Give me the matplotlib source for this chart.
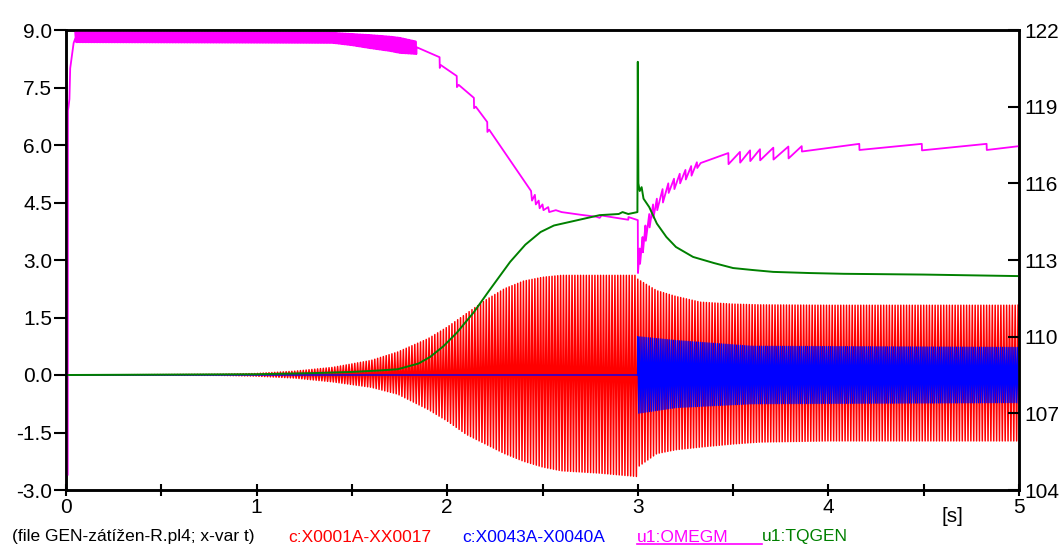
import numpy as np
import matplotlib
matplotlib.use("Agg")
import matplotlib.pyplot as plt
from matplotlib.lines import Line2D

plt.rcParams['font.family'] = ['Liberation Sans', 'DejaVu Sans']

# ---- values (left axis units, time in s) ----
# red current c:X0001A-XX0017, envelope knots
red_t = [0, 0.8, 1.0, 1.2, 1.4, 1.6, 1.74, 1.9, 2.0, 2.1, 2.2, 2.3, 2.4, 2.5, 2.6, 2.8, 2.999,
         3.0, 3.1, 3.2, 3.33, 3.5, 3.64, 4.0, 5.0]
red_top = [0, 0.02, 0.04, 0.1, 0.2, 0.38, 0.6, 0.95, 1.25, 1.6, 1.95, 2.25, 2.45, 2.55, 2.6, 2.6, 2.6,
           2.5, 2.2, 2.05, 1.9, 1.85, 1.83, 1.82, 1.82]
red_bot = [0, -0.01, -0.03, -0.08, -0.18, -0.32, -0.5, -0.9, -1.2, -1.55, -1.8, -2.05, -2.25, -2.4, -2.5, -2.56, -2.65,
           -2.4, -2.05, -1.95, -1.88, -1.8, -1.75, -1.72, -1.72]

# blue current c:X0043A-X0040A (zero before 3 s)
blue_t = [3.0, 3.2, 3.6, 5.0]
blue_top = [1.0, 0.9, 0.75, 0.72]
blue_bot = [-1.0, -0.85, -0.75, -0.72]

# magenta u1:OMEGM - start, oscillating band, then stepped curve
omg_start_t = [0.009, 0.01, 0.013, 0.018, 0.022, 0.03, 0.04, 0.05]
omg_start_v = [-2.6, 6.9, 6.99, 7.2, 8.0, 8.3, 8.66, 8.8]
band_t = [0.05, 1.4, 1.5, 1.6, 1.7, 1.75, 1.84]
band_top = [8.95, 8.93, 8.9, 8.87, 8.83, 8.8, 8.7]
band_bot = [8.68, 8.66, 8.6, 8.52, 8.45, 8.4, 8.37]
omg_t = [1.84, 1.96, 1.961, 1.965, 2.05, 2.051, 2.06, 2.14, 2.141, 2.15, 2.21, 2.211, 2.22,
         2.44, 2.445, 2.46, 2.465, 2.48, 2.485, 2.5, 2.505, 2.53, 2.535, 2.57, 2.6, 2.7, 2.78,
         2.8, 2.81, 2.95, 2.951, 2.995, 3.0, 3.001,
         3.01, 3.012, 3.025, 3.027, 3.04, 3.042, 3.06, 3.062, 3.08, 3.082, 3.10, 3.102, 3.13, 3.132,
         3.16, 3.162, 3.19, 3.192, 3.22, 3.222, 3.25, 3.252, 3.28, 3.282, 3.31, 3.312, 3.33,
         3.475, 3.476, 3.536, 3.537, 3.589, 3.59, 3.641, 3.642, 3.711, 3.712, 3.79, 3.791,
         3.86, 3.861, 4.162, 4.163, 4.49, 4.491, 4.83, 4.831, 5.0]
omg_v = [8.55, 8.29, 8.01, 8.09, 7.8, 7.51, 7.57, 7.23, 6.96, 7.0, 6.6, 6.34, 6.4,
         4.8, 4.55, 4.7, 4.45, 4.55, 4.35, 4.45, 4.3, 4.38, 4.25, 4.3, 4.25, 4.18, 4.13,
         4.1, 4.16, 4.05, 4.12, 4.05, 4.04, 2.66,
         3.3, 2.9, 3.6, 3.2, 3.9, 3.5, 4.2, 3.85, 4.45, 4.1, 4.6, 4.3, 4.85, 4.5,
         5.0, 4.75, 5.12, 4.85, 5.25, 5.0, 5.35, 5.1, 5.45, 5.2, 5.55, 5.4, 5.53,
         5.79, 5.5, 5.82, 5.54, 5.86, 5.58, 5.89, 5.6, 5.93, 5.62, 5.96, 5.65,
         5.97, 5.83, 6.03, 5.87, 6.03, 5.86, 6.03, 5.87, 5.97]

# green u1:TQGEN
tq_t = [0, 1.0, 1.3, 1.5, 1.65, 1.74, 1.85, 1.91, 1.98, 2.05, 2.1, 2.14, 2.22, 2.33, 2.41, 2.49,
        2.56, 2.64, 2.72, 2.8, 2.9, 2.92, 2.95, 2.998, 3.0, 3.003, 3.01, 3.02, 3.03, 3.06, 3.1,
        3.15, 3.2, 3.29, 3.4, 3.5, 3.6, 3.71, 3.9, 4.08, 4.5, 5.0]
tq_v = [0, 0.02, 0.05, 0.08, 0.12, 0.15, 0.3, 0.47, 0.75, 1.1, 1.4, 1.64, 2.2, 2.95, 3.4, 3.73,
        3.9, 3.99, 4.08, 4.17, 4.2, 4.25, 4.2, 4.25, 8.17, 5.0, 4.8, 4.9, 4.6, 4.38, 3.95,
        3.6, 3.34, 3.08, 2.92, 2.79, 2.74, 2.69, 2.66, 2.64, 2.62, 2.58]

left_ticks = [-3.0, -1.5, 0.0, 1.5, 3.0, 4.5, 6.0, 7.5, 9.0]
right_ticks = [104, 107, 110, 113, 116, 119, 122]


def zigzag(kt, top, bot, t0, t1, step):
    t = np.arange(t0, t1 + 1e-9, step)
    hi = np.interp(t, kt, top)
    lo = np.interp(t, kt, bot)
    v = np.where(np.arange(len(t)) % 2 == 0, hi, lo)
    return t, v


fig = plt.figure(figsize=(10.61, 5.45), dpi=100)
ax = fig.add_axes([66 / 1061, 1 - 490 / 545, 953 / 1061, 460 / 545])

rt, rv = zigzag(red_t, red_top, red_bot, 0, 5, 0.0075)
ax.plot(rt, rv, color='#ff0000', lw=1.1, zorder=2)

bt, bv = zigzag(blue_t, blue_top, blue_bot, 3.0, 5, 0.0055)
ax.plot([0, 3.0] + list(bt), [0, 0] + list(bv), color='#0000ff', lw=1.0, zorder=3)

mt, mv = zigzag(band_t, band_top, band_bot, 0.05, 1.84, 0.004)
ax.plot(omg_start_t + list(mt) + omg_t, omg_start_v + list(mv) + omg_v,
        color='#ff00ff', lw=1.3, zorder=4)

ax.plot(tq_t, tq_v, color='#008000', lw=1.4, zorder=5)

ax.set_xlim(0, 5)
ax.set_ylim(-3, 9)
ax.set_xticks([0, 1, 2, 3, 4, 5])
ax.set_xticks(np.arange(0.5, 5, 1.0), minor=True)
ax.set_yticks(left_ticks)
ax.set_yticklabels(['%.1f' % v for v in left_ticks])
ax.tick_params(axis='x', which='both', direction='inout', length=9, width=1.5,
               labelsize=15, pad=1)
ax.tick_params(axis='y', direction='out', length=9, width=1.5, labelsize=15, pad=1)
for s in ax.spines.values():
    s.set_linewidth(1.8)

ax2 = ax.twinx()
ax2.set_ylim(104, 122)
ax2.set_yticks(right_ticks)
ax2.tick_params(axis='y', direction='in', length=8, width=1.5, labelsize=15, pad=4)
for s in ax2.spines.values():
    s.set_linewidth(1.8)

fig.text(952 / 1061, 1 - 516 / 545, '[s]', fontsize=15, ha='center', va='center')

y0 = 1 - 537 / 545
fig.text(12 / 1061, y0, '(file GEN-zátížen-R.pl4; x-var t)', fontsize=12.5, va='center', color='black')
fig.text(288 / 1061, y0, 'c:X0001A-XX0017', fontsize=12.5, va='center', color='#ff0000')
fig.text(462 / 1061, y0, 'c:X0043A-X0040A', fontsize=12.5, va='center', color='#0000ff')
fig.text(637 / 1061, y0, 'u1:OMEGM', fontsize=12.5, va='center', color='#ff00ff')
fig.add_artist(Line2D([637 / 1061, 762 / 1061], [1 - 544 / 545] * 2, color='#ff00ff', lw=1.2))
fig.text(762 / 1061, y0, 'u1:TQGEN', fontsize=12.5, va='center', color='#008000')

fig.savefig('out.png', dpi=100)
